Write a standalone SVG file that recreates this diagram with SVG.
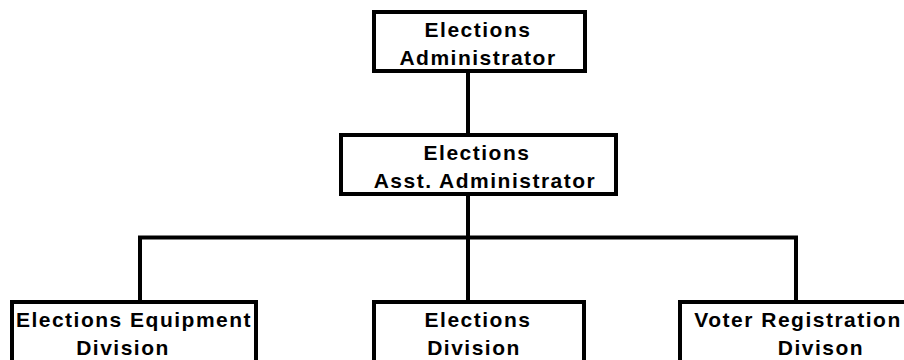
<svg xmlns="http://www.w3.org/2000/svg" width="904" height="360" viewBox="0 0 904 360">
<style>
.box{fill:#fff;stroke:#000;stroke-width:4}
.ln{fill:none;stroke:#000;stroke-width:4}
text{font-family:"Liberation Sans",Arial,sans-serif;font-weight:bold;font-size:21px;letter-spacing:1.5px;text-anchor:middle;fill:#000}
</style>
<rect width="904" height="360" fill="#fff"/>
<g id="connectors">
<line class="ln" x1="468" y1="71" x2="468" y2="135"/>
<line class="ln" x1="468" y1="194" x2="468" y2="302"/>
<polyline class="ln" points="140,302 140,237.5 796,237.5 796,302"/>
</g>
<g id="admin">
<rect class="box" x="374" y="12" width="211" height="59"/>
<text x="478" y="37">Elections</text>
<text x="478" y="65">Administrator</text>
</g>
<g id="asst">
<rect class="box" x="341" y="135" width="275" height="59"/>
<text x="477" y="160">Elections</text>
<text x="485" y="188">Asst. Administrator</text>
</g>
<g id="equipment">
<rect class="box" x="12" y="302" width="244" height="70"/>
<text x="134" y="327">Elections Equipment</text>
<text x="123" y="355">Division</text>
</g>
<g id="elections">
<rect class="box" x="374" y="302" width="210" height="70"/>
<text x="478" y="327">Elections</text>
<text x="474" y="355">Division</text>
</g>
<g id="voter">
<rect class="box" x="680" y="302" width="240" height="70"/>
<text x="798" y="327">Voter Registration</text>
<text x="821" y="355">Divison</text>
</g>
</svg>
